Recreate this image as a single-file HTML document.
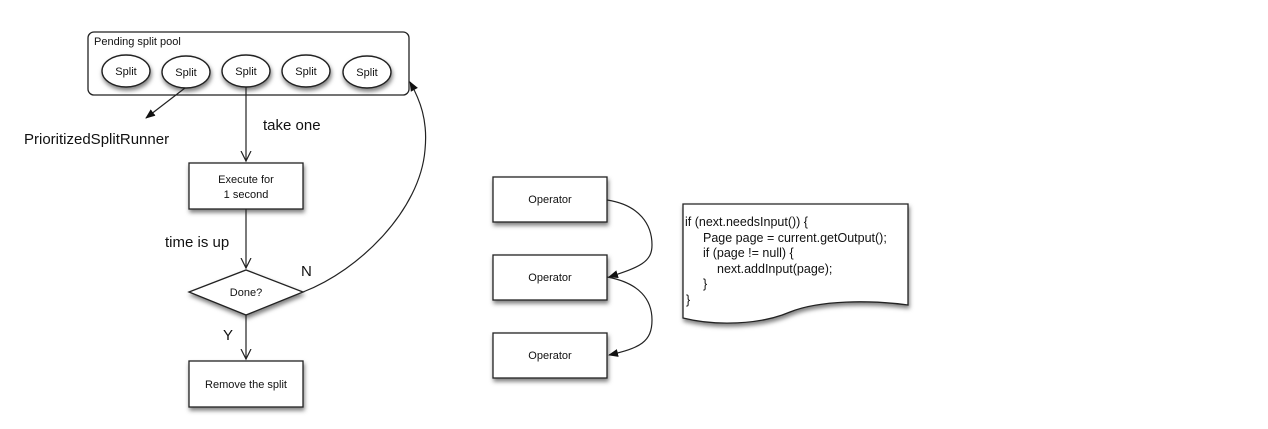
<!DOCTYPE html>
<html><head><meta charset="utf-8"><style>
html,body{margin:0;padding:0;background:#fff;}
svg{display:block;}
text{font-family:"Liberation Sans",Arial,sans-serif;fill:#111;}
</style></head><body>
<svg width="1268" height="429" viewBox="0 0 1268 429" xmlns="http://www.w3.org/2000/svg">
<defs>
<filter id="sh" x="-20%" y="-20%" width="140%" height="160%"><feDropShadow dx="1" dy="3" stdDeviation="2" flood-color="#000" flood-opacity="0.5"/></filter>
<marker id="ar" markerWidth="10" markerHeight="10" refX="9" refY="5" orient="auto" markerUnits="userSpaceOnUse"><path d="M0,1 L10,5 L0,9 Z" fill="#111"/></marker>
<marker id="av" markerWidth="12" markerHeight="12" refX="10" refY="6" orient="auto" markerUnits="userSpaceOnUse"><path d="M0,1 L10,6 L0,11" fill="none" stroke="#222" stroke-width="1.2"/></marker>
</defs>
<rect x="0" y="0" width="1268" height="429" fill="#fff"/>
<rect x="88" y="32" width="321" height="63" rx="6" fill="#fff" stroke="#222" stroke-width="1.3"/>
<text x="94" y="45" font-size="11">Pending split pool</text>
<g filter="url(#sh)" stroke="#222" stroke-width="1.4" fill="#fff">
<ellipse cx="126" cy="71" rx="24" ry="16"/>
<ellipse cx="186" cy="72" rx="24" ry="16"/>
<ellipse cx="246" cy="71" rx="24" ry="16"/>
<ellipse cx="306" cy="71" rx="24" ry="16"/>
<ellipse cx="367" cy="72" rx="24" ry="16"/>
</g>
<g font-size="11" text-anchor="middle">
<text x="126" y="75">Split</text><text x="186" y="76">Split</text><text x="246" y="75">Split</text><text x="306" y="75">Split</text><text x="367" y="76">Split</text>
</g>
<line x1="185" y1="88" x2="146" y2="118" stroke="#222" stroke-width="1.2" marker-end="url(#ar)"/>
<text x="24" y="144" font-size="15">PrioritizedSplitRunner</text>
<line x1="246" y1="87" x2="246" y2="161" stroke="#222" stroke-width="1.2" marker-end="url(#av)"/>
<text x="263" y="130" font-size="15">take one</text>
<rect x="189" y="163" width="114" height="46" fill="#fff" stroke="#222" stroke-width="1.3" filter="url(#sh)"/>
<text x="246" y="183" font-size="11" text-anchor="middle">Execute for</text>
<text x="246" y="198" font-size="11" text-anchor="middle">1 second</text>
<line x1="246" y1="209" x2="246" y2="268" stroke="#222" stroke-width="1.2" marker-end="url(#av)"/>
<text x="165" y="247" font-size="15">time is up</text>
<polygon points="189,292 246,270 303,292 246,315" fill="#fff" stroke="#222" stroke-width="1.3" filter="url(#sh)"/>
<text x="246" y="296" font-size="11" text-anchor="middle">Done?</text>
<path d="M303,292 C360,270 420,210 425,150 C428,120 420,100 410,82" fill="none" stroke="#222" stroke-width="1.2" marker-end="url(#ar)"/>
<text x="301" y="276" font-size="15">N</text>
<text x="223" y="340" font-size="15">Y</text>
<line x1="246" y1="315" x2="246" y2="359" stroke="#222" stroke-width="1.2" marker-end="url(#av)"/>
<rect x="189" y="361" width="114" height="46" fill="#fff" stroke="#222" stroke-width="1.3" filter="url(#sh)"/>
<text x="246" y="388" font-size="11" text-anchor="middle">Remove the split</text>
<g stroke="#222" stroke-width="1.3" fill="#fff" filter="url(#sh)">
<rect x="493" y="177" width="114" height="45"/>
<rect x="493" y="255" width="114" height="45"/>
<rect x="493" y="333" width="114" height="45"/>
</g>
<g font-size="11" text-anchor="middle">
<text x="550" y="203">Operator</text><text x="550" y="281">Operator</text><text x="550" y="359">Operator</text>
</g>
<path d="M607,200 C640,205 652,225 652,245 C652,262 640,267 609,277" fill="none" stroke="#222" stroke-width="1.2" marker-end="url(#ar)"/>
<path d="M607,277 C640,283 652,300 652,320 C652,342 640,348 609,355" fill="none" stroke="#222" stroke-width="1.2" marker-end="url(#ar)"/>
<path d="M683,204 L908,204 L908,305 C870,300 820,300 790,312 C760,325 715,326 683,318 Z" fill="#fff" stroke="#222" stroke-width="1.3" filter="url(#sh)"/>
<g font-size="12.5">
<text x="685" y="226">if (next.needsInput()) {</text>
<text x="703" y="242">Page page = current.getOutput();</text>
<text x="703" y="257">if (page != null) {</text>
<text x="717" y="273">next.addInput(page);</text>
<text x="703" y="288">}</text>
<text x="686" y="304">}</text>
</g>
</svg>
</body></html>
